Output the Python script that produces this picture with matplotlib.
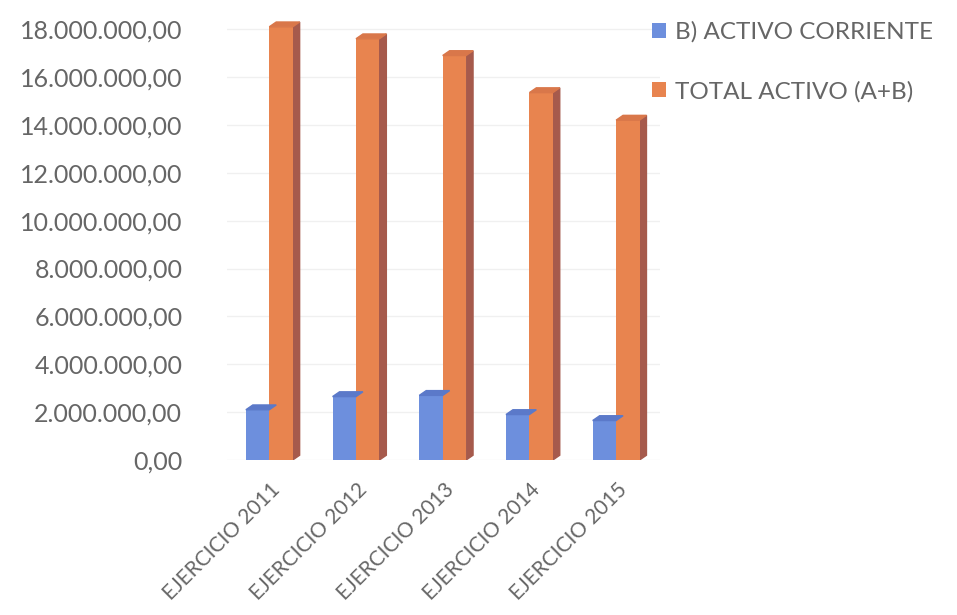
import matplotlib.pyplot as plt
from matplotlib.patches import Polygon
import numpy as np

plt.rcParams['font.family'] = ['Lato', 'DejaVu Sans']

categorias = ["EJERCICIO 2011", "EJERCICIO 2012", "EJERCICIO 2013", "EJERCICIO 2014", "EJERCICIO 2015"]
activo_corriente = [2100000, 2650000, 2700000, 1900000, 1650000]
total_activo = [18100000, 17600000, 16900000, 15350000, 14200000]
ticks = [0, 2e6, 4e6, 6e6, 8e6, 10e6, 12e6, 14e6, 16e6, 18e6]

def fmt_es(v):
    s = "{:,.2f}".format(v)
    return s.replace(",", "X").replace(".", ",").replace("X", ".")

fig = plt.figure(figsize=(9.57, 6.15), dpi=100)
ax = fig.add_axes([0.237, 0.252, 0.453, 0.72])

x = np.arange(len(categorias))
w = 0.27
dx, dy = 0.08, 200000   # fake depth for the 3d look

series = [
    (activo_corriente, x - w / 2 - 0.01, "#6d8fdd", "#3f5aa6", "#5b79c9", "B) ACTIVO CORRIENTE"),
    (total_activo, x + w / 2 - 0.01, "#e8844f", "#a65a4c", "#d9774a", "TOTAL ACTIVO (A+B)"),
]

for vals, pos, front, side, top, lab in series:
    ax.bar(pos, vals, width=w, color=front, label=lab, zorder=3)
    for xi, v in zip(pos, vals):
        r = xi + w / 2
        l = xi - w / 2
        ax.add_patch(Polygon([(r, 0), (r + dx, dy), (r + dx, v + dy), (r, v)],
                             closed=True, color=side, zorder=2))
        ax.add_patch(Polygon([(l, v), (l + dx, v + dy), (r + dx, v + dy), (r, v)],
                             closed=True, color=top, zorder=4))

ax.set_xlim(-0.5, 4.5)
ax.set_ylim(0, 18.5e6)
ax.set_yticks(ticks)
ax.set_yticklabels([fmt_es(t) for t in ticks], fontsize=18, color="#666666")
ax.set_xticks(x)
ax.set_xticklabels(categorias, rotation=45, ha="right", rotation_mode="anchor",
                   fontsize=15, color="#666666")
ax.tick_params(axis="y", length=0, pad=32)
ax.tick_params(axis="x", length=0, pad=14)
ax.grid(axis="y", color="#f0f0f0", linewidth=1, zorder=0)
for s in ax.spines.values():
    s.set_visible(False)

ax.legend(loc="upper left", bbox_to_anchor=(0.93, 1.04), frameon=False,
          fontsize=17.5, labelcolor="#666666", handlelength=0.6, handleheight=0.6,
          handletextpad=0.35, labelspacing=1.55)

fig.savefig("out.png", dpi=100)
